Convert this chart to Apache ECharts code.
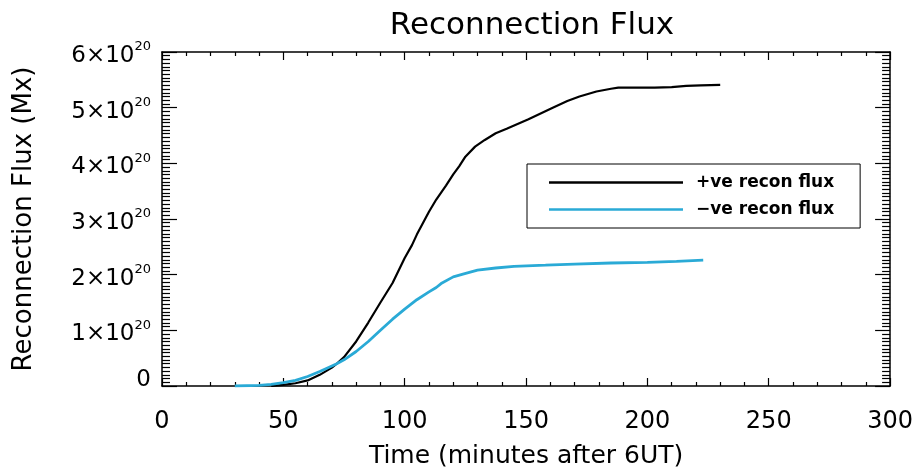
<!DOCTYPE html>
<html>
<head>
<meta charset="utf-8">
<script src="https://cdn.jsdelivr.net/npm/echarts@6/dist/echarts.min.js"></script>
<style>html,body{margin:0;padding:0;background:#fff}#c{width:916px;height:474px}</style>
</head>
<body>
<div id="c"></div>
<script>
// Values are in units of 1e20 Mx
const posTime = [45, 50, 55, 60, 65, 70, 72, 75, 80, 85, 90, 95, 100, 103, 105, 110, 113, 117, 120, 122.5, 125, 129, 133, 137.5, 142, 151, 161, 167, 172, 179, 185, 188, 195, 203, 210, 216, 222, 230];
const posFlux = [0, 0.02, 0.05, 0.1, 0.2, 0.33, 0.4, 0.52, 0.8, 1.14, 1.5, 1.85, 2.3, 2.53, 2.72, 3.13, 3.35, 3.6, 3.8, 3.95, 4.12, 4.3, 4.42, 4.54, 4.62, 4.79, 5.0, 5.12, 5.2, 5.29, 5.34, 5.36, 5.36, 5.36, 5.37, 5.39, 5.4, 5.41];
const negTime = [30, 40, 45, 50, 55, 60, 65, 70, 72, 75, 80, 85, 90, 95, 100, 105, 110, 113, 115, 120, 124, 130, 137.5, 145, 158, 170, 185, 200, 212, 223];
const negFlux = [0, 0.01, 0.03, 0.06, 0.1, 0.17, 0.26, 0.36, 0.4, 0.47, 0.62, 0.8, 1.0, 1.2, 1.38, 1.55, 1.69, 1.77, 1.84, 1.96, 2.01, 2.08, 2.12, 2.15, 2.17, 2.19, 2.21, 2.22, 2.24, 2.26];
const seriesNames = ['+ve recon flux', '\u2212ve recon flux'];
const yTicks = [0, 1, 2, 3, 4, 5, 6];
const xTicks = [0, 50, 100, 150, 200, 250, 300];

const FONT = 'DejaVu Sans';
const pair = (t, v) => t.map((x, i) => [x, v[i]]);
const chart = echarts.init(document.getElementById('c'), null, {renderer: 'canvas'});
const axisCommon = {
  axisLine: {show: true, onZero: false, lineStyle: {color: '#000', width: 1.5}},
  splitLine: {show: false}
};
chart.setOption({
  animation: false,
  backgroundColor: '#fff',
  title: {
    text: 'Reconnection Flux', left: 527, top: 5, textAlign: 'center',
    textStyle: {fontFamily: FONT, fontSize: 31, fontWeight: 'normal', color: '#000'}
  },
  legend: {
    left: 527, top: 164, orient: 'vertical',
    borderColor: '#000', borderWidth: 1, backgroundColor: '#fff',
    padding: [10, 26, 10, 22], itemGap: 10,
    itemWidth: 134, itemHeight: 2.5, icon: 'rect',
    textStyle: {fontFamily: FONT, fontSize: 17, fontWeight: 'bold', color: '#000', lineHeight: 16, padding: [0, 0, 0, 8]},
    data: seriesNames
  },
  grid: {left: 162, right: 24, top: 52, bottom: 85},
  xAxis: [
    Object.assign({}, axisCommon, {
      type: 'value', position: 'bottom', min: xTicks[0], max: xTicks[xTicks.length - 1], interval: 50,
      axisTick: {show: true, inside: true, length: 8, lineStyle: {color: '#000', width: 1.2}},
      minorTick: {show: true, splitNumber: 5, length: 4, lineStyle: {color: '#000', width: 1.2}},
      axisLabel: {fontFamily: FONT, fontSize: 24, color: '#000', margin: 24},
      name: 'Time (minutes after 6UT)', nameLocation: 'middle', nameGap: 58,
      nameTextStyle: {fontFamily: FONT, fontSize: 25, color: '#000'}
    }),
    Object.assign({}, axisCommon, {
      type: 'value', position: 'top', min: xTicks[0], max: xTicks[xTicks.length - 1], interval: 50,
      axisTick: {show: true, inside: true, length: 8, lineStyle: {color: '#000', width: 1.2}},
      minorTick: {show: true, splitNumber: 5, length: 4, lineStyle: {color: '#000', width: 1.2}},
      axisLabel: {show: false}
    })
  ],
  yAxis: [
    Object.assign({}, axisCommon, {
      type: 'value', position: 'left', min: yTicks[0], max: yTicks[yTicks.length - 1], interval: 1,
      axisTick: {show: true, inside: true, length: 15, lineStyle: {color: '#000', width: 1.2}},
      minorTick: {show: true, splitNumber: 15, length: 8, lineStyle: {color: '#000', width: 1.2}},
      axisLabel: {
        margin: 11, color: '#000',
        formatter: v => v === 0 ? '{z|0}' : '{a|' + v + '\u00d710}{s|20}',
        rich: {
          a: {fontFamily: FONT, fontSize: 23, color: '#000', padding: [8, 0, 0, 0]},
          s: {fontFamily: FONT, fontSize: 13, color: '#000', padding: [0, 0, 10, 0]},
          z: {fontFamily: FONT, fontSize: 23, color: '#000', padding: [0, 0, 12, 0]}
        }
      },
      name: 'Reconnection Flux (Mx)', nameLocation: 'middle', nameRotate: 90, nameGap: 125,
      nameTextStyle: {fontFamily: FONT, fontSize: 26, color: '#000'}
    }),
    Object.assign({}, axisCommon, {
      type: 'value', position: 'right', min: yTicks[0], max: yTicks[yTicks.length - 1], interval: 1,
      axisTick: {show: true, inside: true, length: 15, lineStyle: {color: '#000', width: 1.2}},
      minorTick: {show: true, splitNumber: 15, length: 8, lineStyle: {color: '#000', width: 1.2}},
      axisLabel: {show: false}
    })
  ],
  series: [
    {name: seriesNames[0], type: 'line', xAxisIndex: 0, yAxisIndex: 0, data: pair(posTime, posFlux),
     showSymbol: false, smooth: false, color: '#000', lineStyle: {color: '#000', width: 2.2}},
    {name: seriesNames[1], type: 'line', xAxisIndex: 0, yAxisIndex: 0, data: pair(negTime, negFlux),
     showSymbol: false, smooth: false, color: '#2aaad6', lineStyle: {color: '#2aaad6', width: 2.8}}
  ]
});
</script>
</body>
</html>
